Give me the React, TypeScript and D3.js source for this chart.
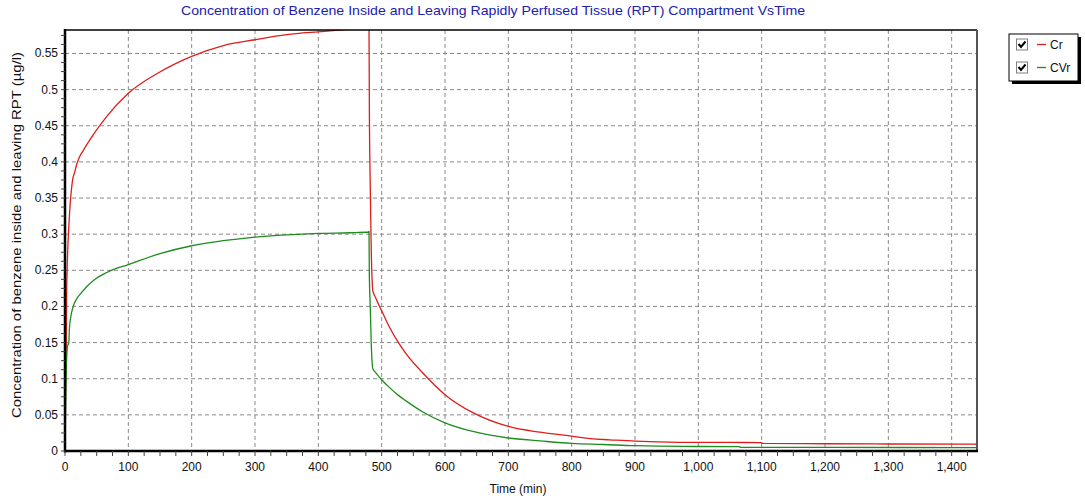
import React from "react";
import * as d3 from "d3";

const crTime = [0, 1, 2, 2.5, 4, 6, 8, 10, 12, 15, 18, 22, 29, 45, 66, 100, 147, 200, 250, 300, 350, 400, 460, 480, 480.6, 481.8, 483.5, 485, 486, 490, 495, 500, 512, 525, 539, 565, 600, 644, 700, 750, 800, 830, 860, 900, 970, 1050, 1100, 1101, 1200, 1300, 1438, 1440];
const crVal = [0, 0.1, 0.15, 0.21, 0.27, 0.31, 0.34, 0.36, 0.375, 0.385, 0.395, 0.405, 0.416, 0.438, 0.463, 0.495, 0.523, 0.546, 0.561, 0.569, 0.576, 0.58, 0.584, 0.585, 0.47, 0.375, 0.28, 0.235, 0.222, 0.213, 0.203, 0.194, 0.172, 0.152, 0.134, 0.108, 0.078, 0.053, 0.034, 0.026, 0.0205, 0.017, 0.0155, 0.0136, 0.012, 0.0118, 0.0117, 0.0105, 0.01, 0.0097, 0.0095, 0.006];

const cvTime = [0, 1, 2, 4, 6, 7, 9, 13, 18, 24, 35, 45, 66, 100, 150, 200, 250, 300, 350, 400, 450, 479, 480, 480.5, 482, 483.5, 486, 490, 495, 500, 512, 525, 539, 565, 600, 644, 700, 750, 800, 850, 900, 1000, 1065, 1066, 1200, 1440];
const cvVal = [0, 0.06, 0.11, 0.145, 0.15, 0.17, 0.185, 0.2, 0.21, 0.217, 0.228, 0.236, 0.247, 0.258, 0.273, 0.284, 0.291, 0.296, 0.299, 0.301, 0.302, 0.303, 0.304, 0.245, 0.2, 0.15, 0.114, 0.109, 0.1035, 0.0985, 0.088, 0.078, 0.069, 0.054, 0.039, 0.027, 0.018, 0.014, 0.0105, 0.009, 0.0073, 0.0062, 0.006, 0.005, 0.0049, 0.0048];

const xTicks = [0, 100, 200, 300, 400, 500, 600, 700, 800, 900, 1000, 1100, 1200, 1300, 1400];
const yTicks = [0, 0.05, 0.1, 0.15, 0.2, 0.25, 0.3, 0.35, 0.4, 0.45, 0.5, 0.55];

const seriesNames = ["Cr", "CVr"];
const seriesColors = ["#e01c1c", "#1e8c1e"];

const titleText = "Concentration of Benzene Inside and Leaving Rapidly Perfused Tissue (RPT) Compartment VsTime";
const yLabel = "Concentration of benzene inside and leaving RPT (µg/l)";
const xLabel = "Time (min)";

const W = 1085;
const H = 501;
const left = 65;
const right = 977;
const top = 30;
const bottom = 451;

export default function App() {
  const x = d3.scaleLinear().domain([0, 1440]).range([left, right]);
  const y = d3.scaleLinear().domain([0, 0.5825]).range([bottom, top]);
  const line = d3
    .line<[number, number]>()
    .x((d) => x(d[0]))
    .y((d) => y(d[1]))
    .curve(d3.curveMonotoneX);
  const crData: [number, number][] = crTime.map((t, i) => [t, crVal[i]]);
  const cvData: [number, number][] = cvTime.map((t, i) => [t, cvVal[i]]);
  const xMinor = d3.range(0, 1441, 25);
  const yMinor = d3.range(0, 0.58, 0.0125);
  const font = "'Liberation Sans', Arial, sans-serif";

  return (
    <svg
      width={W}
      height={H}
      style={{ position: "absolute", left: 0, top: 0, background: "#fff" }}
      fontFamily={font}
    >
      <defs>
        <clipPath id="plotClip">
          <rect x={left} y={top} width={right - left} height={bottom - top} />
        </clipPath>
      </defs>
      <rect x={0} y={0} width={W} height={H} fill="#fff" />
      <text x={493} y={15} textAnchor="middle" fontSize={13.5} fill="#2020b0" textLength={624} lengthAdjust="spacingAndGlyphs">
        {titleText}
      </text>

      {/* grid */}
      {xTicks.filter((t) => t > 0).map((t) => (
        <line key={"gx" + t} x1={x(t)} x2={x(t)} y1={top} y2={bottom} stroke="#8a8a8a" strokeDasharray="4,3" />
      ))}
      {yTicks.filter((t) => t > 0).map((t) => (
        <line key={"gy" + t} x1={left} x2={right} y1={y(t)} y2={y(t)} stroke="#8a8a8a" strokeDasharray="4,3" />
      ))}

      {/* series */}
      <g clipPath="url(#plotClip)">
        <path d={line(crData) || ""} fill="none" stroke={seriesColors[0]} strokeWidth={1.3} />
        <path d={line(cvData) || ""} fill="none" stroke={seriesColors[1]} strokeWidth={1.3} />
      </g>

      {/* frame */}
      <line x1={left} x2={right} y1={top} y2={top} stroke="#000" strokeWidth={1.5} />
      <line x1={right} x2={right} y1={top} y2={bottom} stroke="#555" strokeWidth={2} />
      <line x1={left} x2={left} y1={top - 1} y2={bottom + 1.5} stroke="#000" strokeWidth={2.5} />
      <line x1={left - 1} x2={right + 1} y1={bottom} y2={bottom} stroke="#000" strokeWidth={2.5} />

      {/* ticks */}
      {xMinor.map((t) => (
        <line key={"tx" + t} x1={x(t)} x2={x(t)} y1={bottom} y2={bottom + 5} stroke="#444" />
      ))}
      {yMinor.map((t, i) => (
        <line key={"ty" + i} x1={left - 4} x2={left} y1={y(t)} y2={y(t)} stroke="#444" />
      ))}

      {xTicks.map((t) => (
        <text key={"lx" + t} x={x(t)} y={471} textAnchor="middle" fontSize={12} fill="#111">
          {d3.format(",")(t)}
        </text>
      ))}
      {yTicks.map((t) => (
        <text key={"ly" + t} x={58} y={y(t) + 4} textAnchor="end" fontSize={12} fill="#111">
          {String(t)}
        </text>
      ))}

      <text x={518} y={493} textAnchor="middle" fontSize={12} fill="#111">
        {xLabel}
      </text>
      <text
        transform={`translate(21, ${235}) rotate(-90)`}
        textAnchor="middle"
        fontSize={13}
        fill="#111"
        textLength={366}
        lengthAdjust="spacingAndGlyphs"
      >
        {yLabel}
      </text>

      {/* legend */}
      <rect x={1012} y={37} width={69} height={47} fill="#000" />
      <rect x={1009} y={34} width={69} height={47} fill="#fff" stroke="#000" strokeWidth={1} />
      {seriesNames.map((n, i) => {
        const cy = 44.5 + i * 23;
        return (
          <g key={n}>
            <rect x={1016.5} y={cy - 5.5} width={11} height={11} fill="#fff" stroke="#808080" strokeWidth={1} />
            <path
              d={`M${1018.5},${cy - 0.5} L${1021},${cy + 2.5} L${1025.5},${cy - 3}`}
              fill="none"
              stroke="#000"
              strokeWidth={2}
            />
            <line x1={1037} x2={1046} y1={cy} y2={cy} stroke={seriesColors[i]} strokeWidth={1.3} />
            <text x={1050} y={cy + 4.5} fontSize={12} fill="#111">
              {n}
            </text>
          </g>
        );
      })}
    </svg>
  );
}
